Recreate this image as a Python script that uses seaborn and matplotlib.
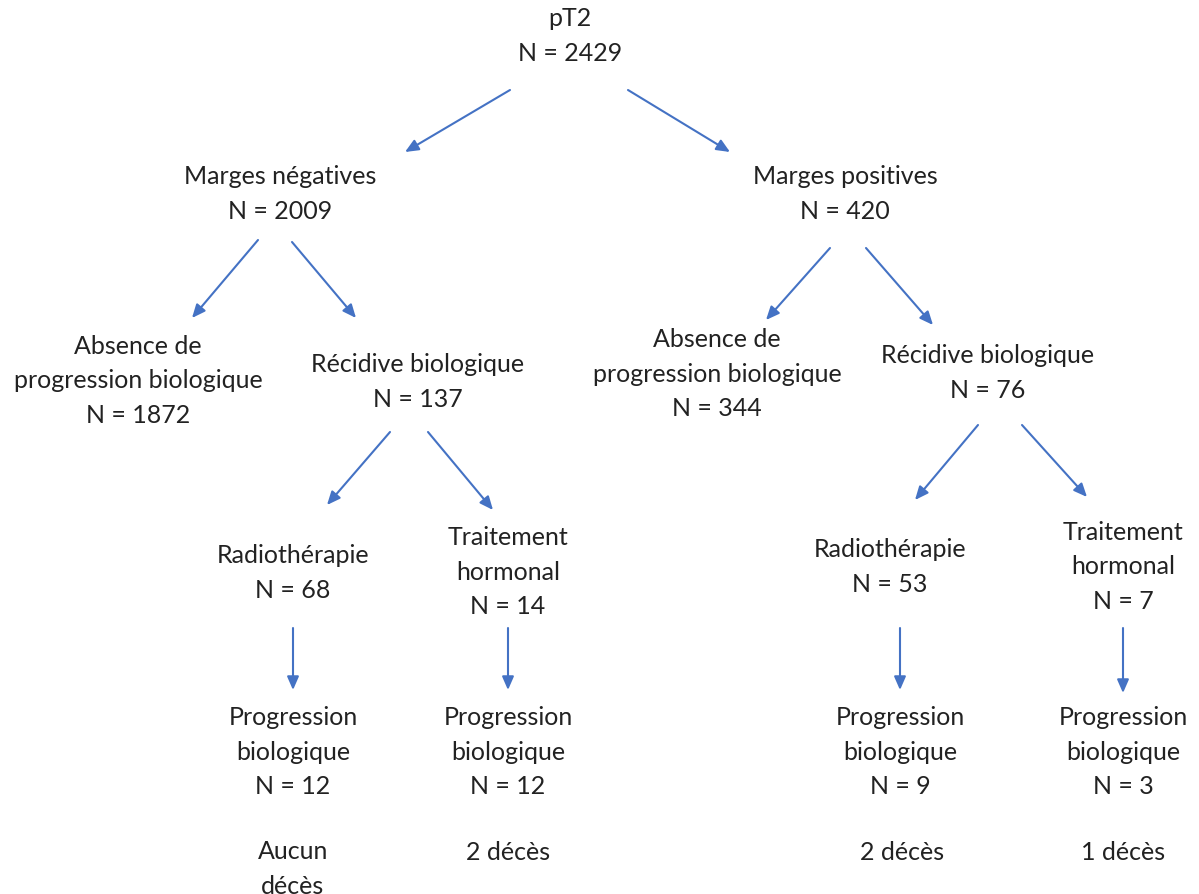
import matplotlib
matplotlib.use("Agg")
import matplotlib.pyplot as plt
import seaborn as sns

sns.set_style("white")
plt.rcParams['font.family'] = ['Lato', 'DejaVu Sans']

# node labels and counts
labels = [
    "pT2",
    "Marges négatives", "Marges positives",
    "Absence de\nprogression biologique", "Récidive biologique",
    "Absence de\nprogression biologique", "Récidive biologique",
    "Radiothérapie", "Traitement\nhormonal",
    "Radiothérapie", "Traitement\nhormonal",
    "Progression\nbiologique", "Progression\nbiologique",
    "Progression\nbiologique", "Progression\nbiologique",
]
counts = [2429, 2009, 420, 1872, 137, 344, 76, 68, 14, 53, 7, 12, 12, 9, 3]
deaths = ["Aucun\ndécès", "2 décès", "2 décès", "1 décès"]

# layout (pixel centres of each block)
node_xy = [
    (570, 36),
    (280, 194), (845, 194),
    (138, 381), (418, 382),
    (717, 374), (988, 373),
    (293, 573), (508, 572),
    (890, 567), (1123, 567),
    (293, 752), (508, 752),
    (900, 752), (1123, 752),
]
death_xy = [(293, 869), (508, 853), (902, 853), (1123, 853)]

arrows = [
    ((510, 90), (405, 152)), ((628, 90), (730, 152)),
    ((258, 240), (192, 318)), ((292, 242), (356, 318)),
    ((830, 248), (766, 320)), ((866, 248), (933, 325)),
    ((390, 432), (327, 505)), ((428, 432), (493, 510)),
    ((978, 425), (915, 500)), ((1022, 425), (1087, 497)),
    ((293, 628), (293, 690)), ((508, 628), (508, 690)),
    ((900, 628), (900, 690)), ((1123, 628), (1123, 693)),
]

fig = plt.figure(figsize=(11.99, 8.94), dpi=100)
ax = fig.add_axes([0, 0, 1, 1])
ax.set_xlim(0, 1199)
ax.set_ylim(894, 0)
ax.axis("off")

txt_color = "#222222"
blue = "#4472C4"

for lab, n, (x, y) in zip(labels, counts, node_xy):
    ax.text(x, y, f"{lab}\nN = {n}", ha="center", va="center",
            fontsize=18, color=txt_color, linespacing=1.63)

for d, (x, y) in zip(deaths, death_xy):
    ax.text(x, y, d, ha="center", va="center", fontsize=18,
            color=txt_color, linespacing=1.63)

for (x0, y0), (x1, y1) in arrows:
    ax.annotate("", xy=(x1, y1), xytext=(x0, y0),
                arrowprops=dict(arrowstyle="-|>,head_length=0.8,head_width=0.35",
                                color=blue, lw=1.5, shrinkA=0, shrinkB=0))

plt.savefig("out.png", dpi=100)
